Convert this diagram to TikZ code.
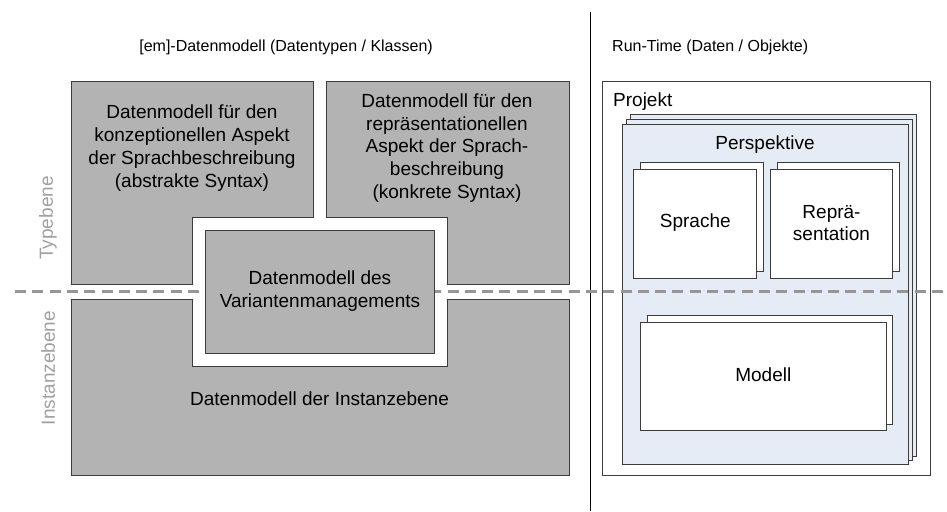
\documentclass[tikz,border=0pt]{standalone}
\usepackage{fontspec}
\setmainfont{Liberation Sans}
\definecolor{boxgray}{RGB}{179,179,179}
\definecolor{edgegray}{RGB}{60,60,60}
\definecolor{paleblue}{RGB}{230,236,246}
\definecolor{dashgray}{RGB}{150,150,150}
\definecolor{labelgray}{RGB}{160,160,160}
\begin{document}
\begin{tikzpicture}[x=1pt,y=-1pt,
  grayshape/.style={fill=boxgray,draw=edgegray,line width=0.9pt},
  whitebox/.style={fill=white,draw=edgegray,line width=0.9pt},
  blueshape/.style={fill=paleblue,draw=edgegray,line width=0.9pt},
  framebox/.style={draw=edgegray,line width=0.9pt},
  bodytext/.style={font=\fontsize{19}{22.8}\selectfont,align=center,inner sep=0},
  titletext/.style={font=\fontsize{16}{19}\selectfont,inner sep=0},
  sidelabel/.style={font=\fontsize{19}{22}\selectfont,text=labelgray,rotate=90,inner sep=0},
  dashline/.style={draw=dashgray,line width=3pt,dash pattern=on 11pt off 6.3pt}]
\useasboundingbox (0,0) rectangle (947,511);

% titles and separator
\node[titletext,anchor=east] (ttl) at (433,47) {[em]-Datenmodell (Datentypen / Klassen)};
\node[titletext,anchor=west] (ttr) at (612,47) {Run-Time (Daten / Objekte)};
\coordinate (vtop) at (590,12);
\coordinate (vbot) at (590,511);
\draw[black,line width=0.9pt] (vtop) -- (vbot);

% side labels
\node[sidelabel] (typ) at (48,218) {Typebene};
\node[sidelabel] (inst) at (48,368) {Instanzebene};

% gray shapes
\draw[grayshape] (71,81) -- (313,81) -- (313,217) -- (192,217) -- (192,284) -- (71,284) -- cycle;
\draw[grayshape] (326,81) -- (569,81) -- (569,284) -- (447,284) -- (447,217) -- (326,217) -- cycle;
\draw[grayshape] (71,299) -- (192,299) -- (192,366) -- (447,366) -- (447,299) -- (569,299) -- (569,475) -- (71,475) -- cycle;

\node[bodytext] (dmk) at (192,148) {Datenmodell für den\\konzeptionellen Aspekt\\der Sprachbeschreibung\\(abstrakte Syntax)};
\node[bodytext] (dmr) at (447,148) {Datenmodell für den\\repräsentationellen\\Aspekt der Sprach-\\beschreibung\\(konkrete Syntax)};
\node[bodytext] (dmi) at (319.5,398.5) {Datenmodell der Instanzebene};

% right side frame
\draw[framebox] (602.5,81.5) rectangle (930.5,475.5);
\node[bodytext,anchor=west] (proj) at (613,101.5) {Projekt};

% perspective stack
\draw[blueshape] (630,114.3) rectangle (916.7,456);
\draw[blueshape] (626.5,119.3) rectangle (912.3,460.5);
\draw[blueshape] (622.3,124.3) rectangle (908.3,464.3);
\node[bodytext] (persp) at (765,144.5) {Perspektive};

% Sprache stack
\draw[whitebox] (640.7,162.3) rectangle (763.3,271.7);
\draw[whitebox] (633.7,169.3) rectangle (756.7,278.3);
\node[bodytext] (spr) at (695.3,222.7) {Sprache};

% Repraesentation stack
\draw[whitebox] (777,162.3) rectangle (899.3,271.7);
\draw[whitebox] (770.3,169.3) rectangle (892.7,278.3);
\node[bodytext] (rep) at (831.5,223) {Reprä-\\sentation};

% Modell stack
\draw[whitebox] (647.3,315.7) rectangle (892.7,424);
\draw[whitebox] (640.7,322.3) rectangle (886,430.7);
\node[bodytext] (mod) at (763.3,375) {Modell};

% dashed level separator
\coordinate (dl) at (15,291);
\coordinate (dr) at (947,291);
\draw[dashline] (dl) -- (dr);

% variant management box on top
\draw[grayshape] (205,230.7) rectangle (434,353.3);
\node[bodytext] (var) at (320,291.3) {Datenmodell des\\Variantenmanagements};
\end{tikzpicture}
\end{document}
